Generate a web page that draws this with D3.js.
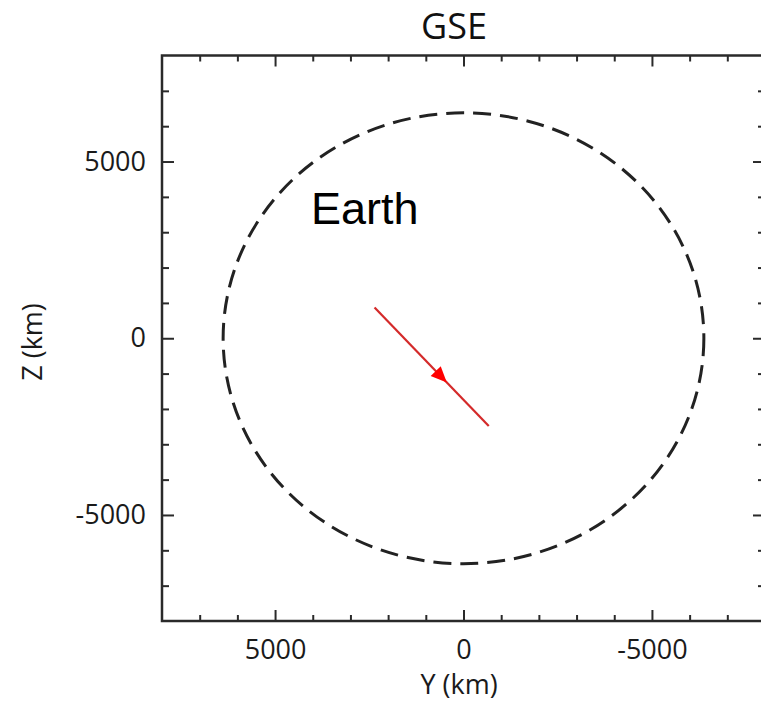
<!DOCTYPE html>
<html>
<head>
<meta charset="utf-8">
<script src="https://cdn.jsdelivr.net/npm/d3@7/dist/d3.min.js"></script>
<style>
  html, body { margin: 0; padding: 0; background: #fff; }
  svg { display: block; }
</style>
</head>
<body>
<script>
// Axis ranges (km)
const yRange = [8000, -8000];   // GSE Y, increasing to the left
const zRange = [-8000, 8000];   // GSE Z
const majorTicks = [5000, 0, -5000];
const minorTicks = [-7000, -6000, -4000, -3000, -2000, -1000, 1000, 2000, 3000, 4000, 6000, 7000];

// Earth outline radius (km)
const earthRadius = [6378];

// Spacecraft track in the Y-Z plane (km)
const trackY = [2360, -670];
const trackZ = [870, -2480];
// Direction marker position along the track (km)
const arrowY = [590];
const arrowZ = [-1090];

const W = 761, H = 701;
const plotLeft = 162, plotRight = 765, plotTop = 55.5, plotBottom = 621;

const svg = d3.select("body").append("svg")
  .attr("width", W).attr("height", H);

const x = d3.scaleLinear().domain(yRange).range([plotLeft, plotRight]);
const y = d3.scaleLinear().domain(zRange).range([plotBottom, plotTop]);

const font = "'Open Sans', 'Noto Sans', sans-serif";
const axisColor = "#2a2a2a";
const fmt = d => String(d);   // plain hyphen-minus for negatives

function styleAxis(g) {
  g.select(".domain").remove();
  g.selectAll(".tick line").attr("stroke", axisColor).attr("stroke-width", 2);
  g.selectAll(".tick text")
    .attr("fill", "#1a1a1a")
    .style("font-family", font)
    .style("font-size", "27px");
}

// Bottom axis: major with labels, minor without
svg.append("g").attr("transform", `translate(0,${plotBottom})`)
  .call(d3.axisBottom(x).tickValues(majorTicks).tickSizeInner(-11).tickSizeOuter(0)
    .tickPadding(19).tickFormat(fmt))
  .call(styleAxis);
svg.append("g").attr("transform", `translate(0,${plotBottom})`)
  .call(d3.axisBottom(x).tickValues(minorTicks).tickSizeInner(-6).tickSizeOuter(0).tickFormat(""))
  .call(styleAxis);

// Top axis
svg.append("g").attr("transform", `translate(0,${plotTop})`)
  .call(d3.axisTop(x).tickValues(majorTicks).tickSizeInner(-11).tickSizeOuter(0).tickFormat(""))
  .call(styleAxis);
svg.append("g").attr("transform", `translate(0,${plotTop})`)
  .call(d3.axisTop(x).tickValues(minorTicks).tickSizeInner(-6).tickSizeOuter(0).tickFormat(""))
  .call(styleAxis);

// Left axis
svg.append("g").attr("transform", `translate(${plotLeft},0)`)
  .call(d3.axisLeft(y).tickValues(majorTicks).tickSizeInner(-12).tickSizeOuter(0)
    .tickPadding(16).tickFormat(fmt))
  .call(styleAxis);
svg.append("g").attr("transform", `translate(${plotLeft},0)`)
  .call(d3.axisLeft(y).tickValues(minorTicks).tickSizeInner(-7).tickSizeOuter(0).tickFormat(""))
  .call(styleAxis);

// Right axis
svg.append("g").attr("transform", `translate(${plotRight},0)`)
  .call(d3.axisRight(y).tickValues(majorTicks).tickSizeInner(-12).tickSizeOuter(0).tickFormat(""))
  .call(styleAxis);
svg.append("g").attr("transform", `translate(${plotRight},0)`)
  .call(d3.axisRight(y).tickValues(minorTicks).tickSizeInner(-7).tickSizeOuter(0).tickFormat(""))
  .call(styleAxis);

// Plot frame
svg.append("rect")
  .attr("x", plotLeft).attr("y", plotTop)
  .attr("width", plotRight - plotLeft).attr("height", plotBottom - plotTop)
  .attr("fill", "none").attr("stroke", axisColor).attr("stroke-width", 2.5);

// Earth outline
svg.selectAll("ellipse.earth").data(earthRadius).enter().append("ellipse")
  .attr("class", "earth")
  .attr("cx", x(0)).attr("cy", y(0))
  .attr("rx", r => Math.abs(x(r) - x(0)))
  .attr("ry", r => Math.abs(y(r) - y(0)))
  .attr("fill", "none").attr("stroke", "#222")
  .attr("stroke-width", 3).attr("stroke-dasharray", "18 9");

svg.append("text")
  .attr("x", 311).attr("y", 224)
  .style("font-family", "'Liberation Sans', Arial, sans-serif")
  .style("font-size", "45px")
  .attr("fill", "#000")
  .text("Earth");

// Spacecraft track
const track = trackY.map((v, i) => [v, trackZ[i]]);
svg.append("path")
  .datum(track)
  .attr("d", d3.line().x(d => x(d[0])).y(d => y(d[1])))
  .attr("fill", "none").attr("stroke", "#d42a2a").attr("stroke-width", 2.2);

// Direction arrow
const dx = x(trackY[1]) - x(trackY[0]);
const dy = y(trackZ[1]) - y(trackZ[0]);
const ang = Math.atan2(dy, dx) * 180 / Math.PI;
svg.selectAll("path.arrow").data(arrowY.map((v, i) => [v, arrowZ[i]])).enter()
  .append("path").attr("class", "arrow")
  .attr("transform", d => `translate(${x(d[0])},${y(d[1])}) rotate(${ang})`)
  .attr("d", "M8,0 L-8,-7 L-8,7 Z")
  .attr("fill", "#ff0000");

// Titles
svg.append("text")
  .attr("x", 454).attr("y", 39).attr("text-anchor", "middle")
  .style("font-family", font).style("font-size", "36px").attr("fill", "#111")
  .text("GSE");

svg.append("text")
  .attr("x", 459).attr("y", 694).attr("text-anchor", "middle")
  .style("font-family", font).style("font-size", "27px").attr("fill", "#1a1a1a")
  .text("Y (km)");

svg.append("text")
  .attr("transform", "translate(42,342) rotate(-90)")
  .attr("text-anchor", "middle")
  .style("font-family", font).style("font-size", "27px").attr("fill", "#1a1a1a")
  .text("Z (km)");
</script>
</body>
</html>
